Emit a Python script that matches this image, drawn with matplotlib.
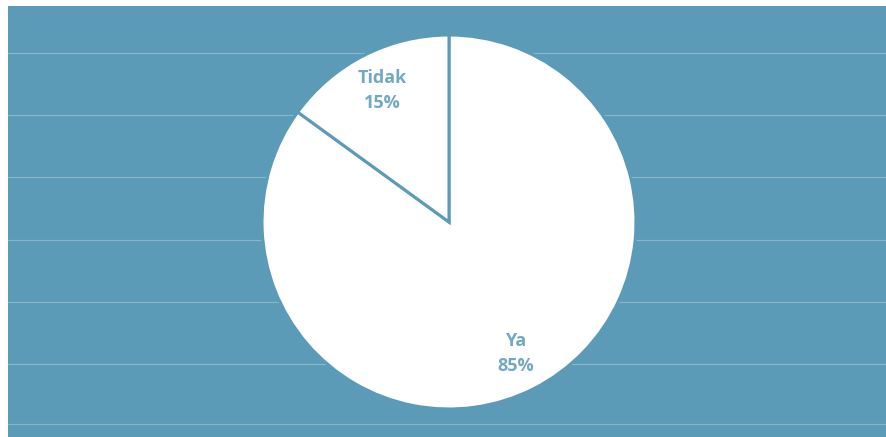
import matplotlib
matplotlib.use("Agg")
import matplotlib.pyplot as plt

labels = ["Ya", "Tidak"]
values = [85, 15]

BG = "#5c9bb7"
TXT = "#72a8c0"

fig = plt.figure(figsize=(8.86, 4.37), dpi=100)
fig.patch.set_facecolor("white")

# blue chart area with faint horizontal rules
bg = fig.add_axes([8 / 886, 0, 1 - 8 / 886, 1 - 6 / 437])
bg.set_facecolor(BG)
bg.set_xlim(0, 1)
bg.set_ylim(0, 431)
for y in [13, 73, 135, 197, 260, 322, 384]:
    bg.axhline(y, color="#9cc3d6", lw=0.8, alpha=0.7)
for s in bg.spines.values():
    s.set_visible(False)
bg.set_xticks([])
bg.set_yticks([])

# pie
r = 187
cx, cy = 449, 437 - 222
ax = fig.add_axes([(cx - r) / 886, (cy - r) / 437, 2 * r / 886, 2 * r / 437])
ax.set_facecolor("none")
wedges, texts, pct = ax.pie(values, labels=None, startangle=90, counterclock=False,
                            colors=["white", "white"], autopct="%1.0f%%",
                            pctdistance=0.79,
                            wedgeprops=dict(edgecolor=BG, linewidth=2.2))
for p, name in zip(pct, labels):
    p.set_text(f"{name}\n{p.get_text()}")
    p.set_color(TXT)
    p.set_fontsize(13)
    p.set_fontweight("bold")
    p.set_fontfamily("Open Sans")
    p.set_linespacing(1.45)
ax.set_xlim(-1, 1)
ax.set_ylim(-1, 1)
ax.set_aspect("equal")

fig.savefig("out.png", dpi=100)
